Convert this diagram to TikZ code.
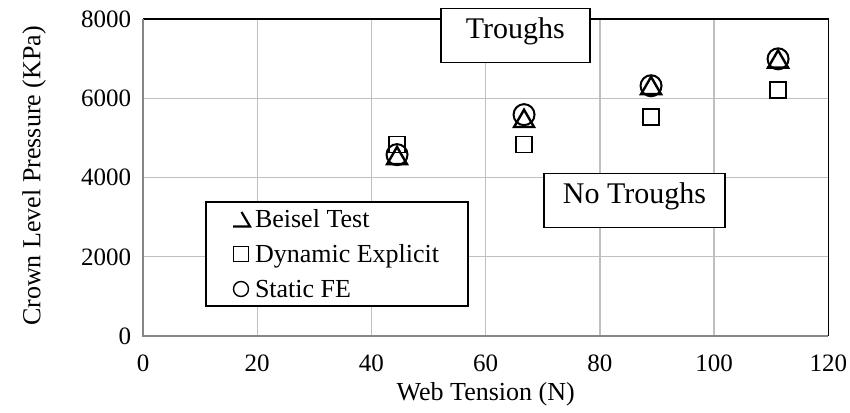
\documentclass[tikz,border=0pt]{standalone}
\usepackage{fontspec}
\setmainfont{Liberation Serif}
\usetikzlibrary{shapes.geometric}
\definecolor{gridgray}{RGB}{191,191,191}
\definecolor{axisgray}{RGB}{134,134,134}
\begin{document}
\begin{tikzpicture}[x=1pt,y=-1pt,
  every node/.style={inner sep=0pt, outer sep=0pt},
  gridline/.style={draw=gridgray, line width=1.3pt},
  frameline/.style={draw=black, line width=1.6pt},
  axisline/.style={draw=axisgray, line width=1.6pt},
  ticklabel/.style={font=\fontsize{25}{30}\selectfont},
  axistitle/.style={font=\fontsize{26}{31}\selectfont},
  notebox/.style={draw=black, line width=1.9pt, fill=white,
    font=\fontsize{30}{36}\selectfont, text height=0.662em, text depth=0pt},
  legendbox/.style={draw=black, line width=1.9pt, fill=white},
  legendtext/.style={font=\fontsize{26}{31}\selectfont, anchor=base west},
  sqmark/.style={draw=black, line width=1.3pt, rectangle, minimum size=16pt},
  circmark/.style={draw=black, line width=2pt, circle, minimum size=21pt},
  trimark/.style={draw=black, line width=2.4pt, regular polygon,
    regular polygon sides=3, minimum size=23pt, yshift=-3pt},
]
\useasboundingbox (0,0) rectangle (850,412);

% plot area in data units: Web Tension (N) against pressure (KPa)
\begin{scope}[shift={(143,336)}, x=5.711pt, y=0.03959pt]
  \foreach \gx in {20,40,60,80,100}
    \draw[gridline] (\gx,0) -- (\gx,8000);
  \foreach \gy in {2000,4000,6000}
    \draw[gridline] (0,\gy) -- (120,\gy);
  \draw[frameline] (0,8000) -- (120,8000) -- (120,0);
  \draw[axisline] (0,8000) -- (0,0) -- (120,0);

  % tick labels
  \foreach \gx in {0,20,40,60,80,100,120}
    \node[ticklabel, anchor=base] (xt\gx) at (\gx,-893) {\gx};
  \foreach \gy in {0,2000,4000,6000,8000}
    \node[ticklabel, anchor=east] (yt\gy) at (-2.1,\gy) {\gy};

  % Dynamic Explicit
  \node[sqmark] (de1) at (44.48,4830) {};
  \node[sqmark] (de2) at (66.72,4830) {};
  \node[sqmark] (de3) at (88.96,5530) {};
  \node[sqmark] (de4) at (111.2,6210) {};
  % Beisel Test
  \node[trimark] (bt1) at (44.48,4560) {};
  \node[trimark] (bt2) at (66.72,5500) {};
  \node[trimark] (bt3) at (88.96,6330) {};
  \node[trimark] (bt4) at (111.2,7000) {};
  % Static FE
  \node[circmark] (sf1) at (44.48,4580) {};
  \node[circmark] (sf2) at (66.72,5590) {};
  \node[circmark] (sf3) at (88.96,6320) {};
  \node[circmark] (sf4) at (111.2,7000) {};
\end{scope}

% axis titles
\node[axistitle, anchor=base] (xtitle) at (485.7,400) {Web Tension (N)};
\node[axistitle, rotate=90] (ytitle) at (34,176) {Crown Level Pressure (KPa)};

% annotation boxes
\node[notebox, minimum width=149pt, minimum height=54pt] (troughs) at (515.4,35.5) {Troughs};
\node[notebox, minimum width=181pt, minimum height=54pt] (notroughs) at (634.5,200.5) {No Troughs};

% legend
\node[legendbox, minimum width=262pt, minimum height=104pt] (legend) at (337,254) {};
\draw[line width=2.2pt] (241.5,212) -- (250,226.5) -- (233,226.5);
\node[legendtext] (lbt) at (255,227) {Beisel Test};
\node[sqmark, minimum size=15pt] (lsq) at (241,254) {};
\node[legendtext] (lde) at (255,262) {Dynamic Explicit};
\node[draw=black, line width=1.4pt, circle, minimum size=15pt] (lci) at (241,289) {};
\node[legendtext] (lsf) at (255,297) {Static FE};
\end{tikzpicture}
\end{document}
